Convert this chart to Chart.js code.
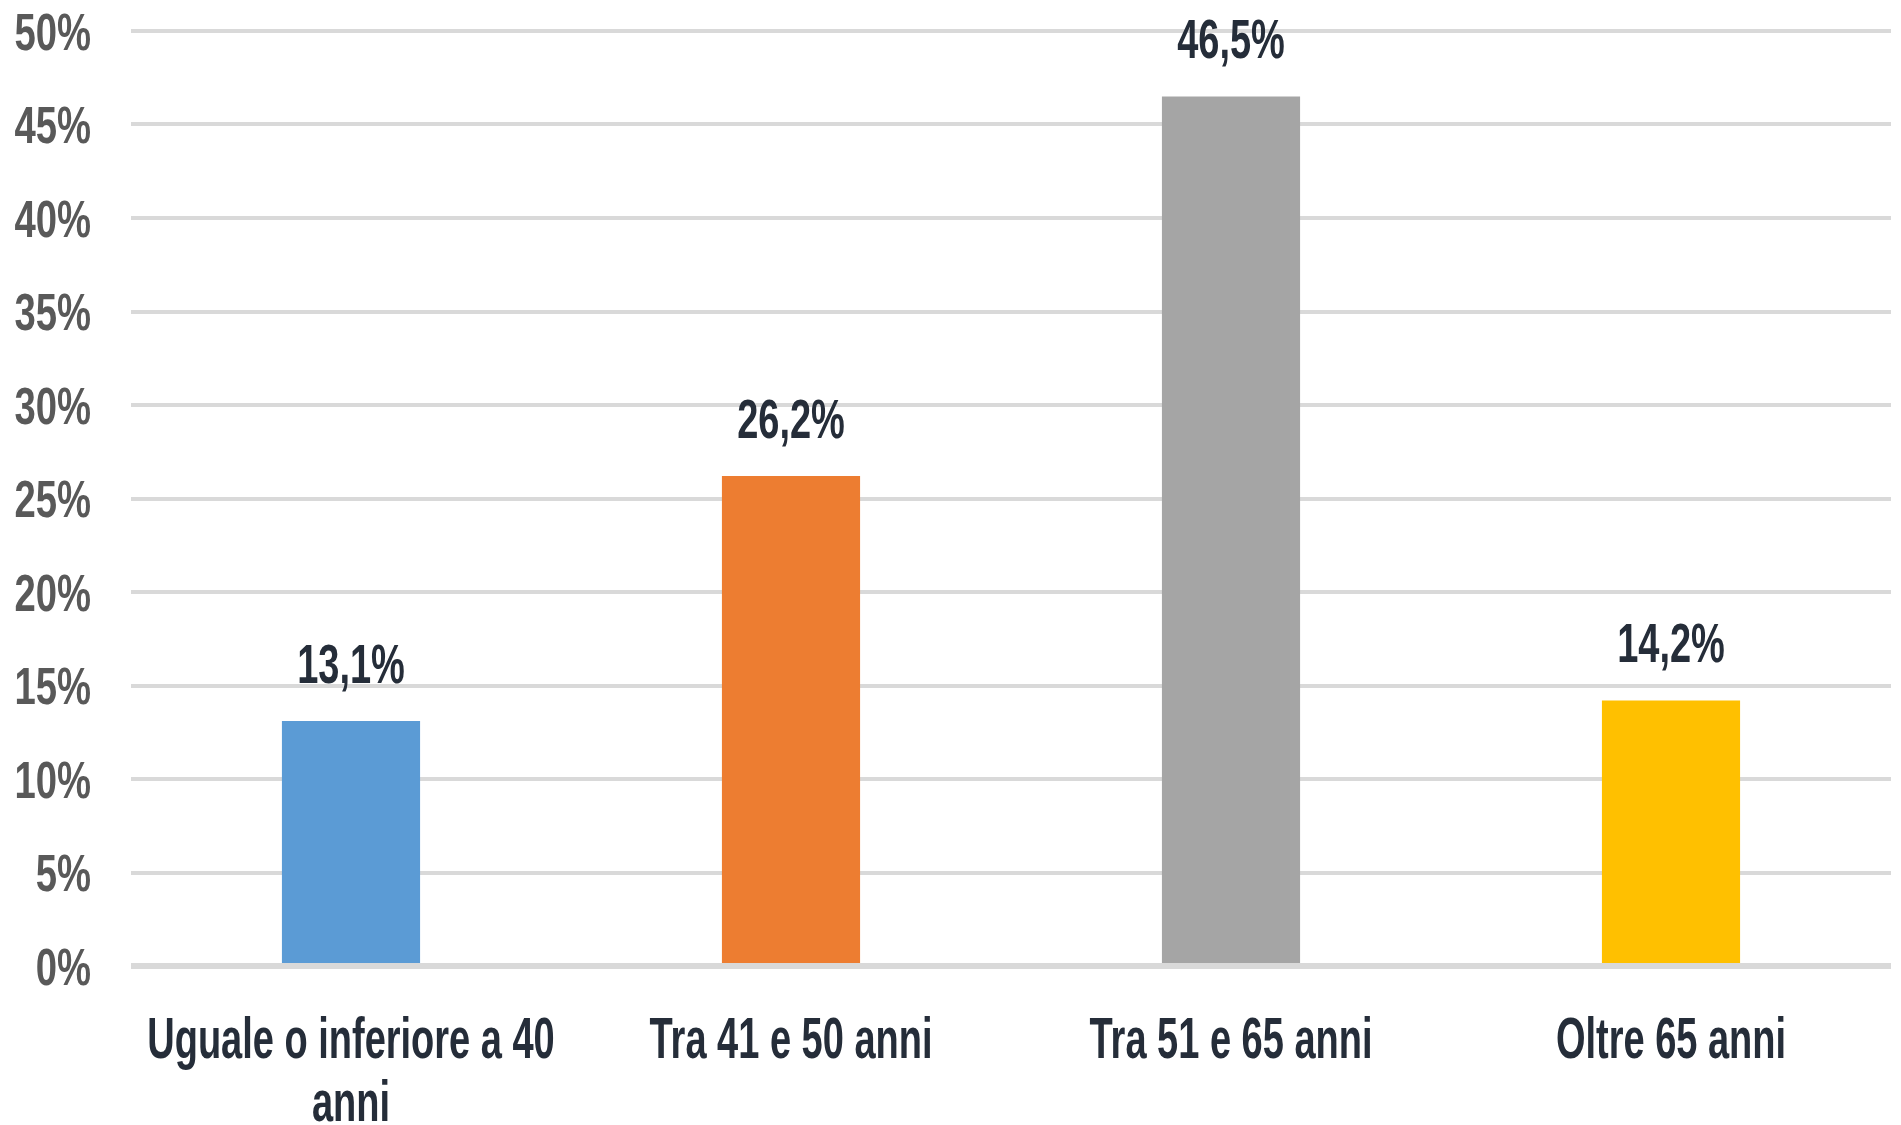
<!DOCTYPE html>
<html>
<head>
<meta charset="utf-8">
<script src="https://cdn.jsdelivr.net/npm/chart.js@4/dist/chart.umd.min.js"></script>
<style>
  html, body { margin: 0; padding: 0; background: #fff; }
  #chart { display: block; }
</style>
</head>
<body>
<canvas id="chart" width="1901" height="1125"></canvas>
<script>
  // age groups and share of respondents (%)
  const categories = [['Uguale o inferiore a 40', 'anni'], 'Tra 41 e 50 anni', 'Tra 51 e 65 anni', 'Oltre 65 anni'];
  const shares = [13.1, 26.2, 46.5, 14.2];
  const barColors = ['#5b9bd5', '#ed7d31', '#a5a5a5', '#ffc000'];
  const yTicks = [0, 5, 10, 15, 20, 25, 30, 35, 40, 45, 50];

  const FONT = '"Liberation Sans", Arial, sans-serif';
  const DARK = '#252d39';

  // no narrow face available, so squeeze the regular one horizontally
  function narrowText(ctx, txt, x, y, sx, align) {
    ctx.save();
    ctx.translate(x, y);
    ctx.scale(sx, 1);
    ctx.textAlign = align;
    ctx.fillText(txt, 0, 0);
    ctx.restore();
  }

  const narrowLabels = {
    id: 'narrowLabels',
    afterDraw(chart) {
      const ctx = chart.ctx;
      const xs = chart.scales.x;
      const ys = chart.scales.y;
      ctx.save();
      ctx.textBaseline = 'alphabetic';

      // y axis percentages
      ctx.font = 'bold 51px ' + FONT;
      ctx.fillStyle = '#595959';
      yTicks.forEach(v => {
        narrowText(ctx, v + '%', 91, ys.getPixelForValue(v) + 18.5, 0.75, 'right');
      });

      // category names, up to two lines
      ctx.font = 'bold 58px ' + FONT;
      ctx.fillStyle = DARK;
      categories.forEach((lab, i) => {
        const lines = Array.isArray(lab) ? lab : [lab];
        const x = xs.getPixelForTick(i);
        lines.forEach((ln, j) => narrowText(ctx, ln, x, ys.bottom + 92 + j * 63, 0.655, 'center'));
      });

      // value above each bar, decimal comma
      ctx.font = 'bold 55px ' + FONT;
      const meta = chart.getDatasetMeta(0);
      meta.data.forEach((bar, i) => {
        const txt = shares[i].toFixed(1).replace('.', ',') + '%';
        narrowText(ctx, txt, bar.x, bar.y - 38, 0.69, 'center');
      });
      ctx.restore();
    }
  };

  new Chart(document.getElementById('chart').getContext('2d'), {
    type: 'bar',
    data: {
      labels: categories,
      datasets: [{
        data: shares,
        backgroundColor: barColors,
        borderWidth: 0,
        categoryPercentage: 1,
        barPercentage: 0.314
      }]
    },
    options: {
      responsive: false,
      animation: false,
      events: [],
      layout: { padding: { top: 31, right: 10, left: 0, bottom: 0 } },
      plugins: {
        legend: { display: false },
        tooltip: { enabled: false }
      },
      scales: {
        x: {
          grid: { display: false, drawTicks: false },
          border: { display: false },
          ticks: { display: false },
          afterFit(scale) { scale.height = 159; }
        },
        y: {
          min: 0,
          max: 50,
          afterBuildTicks(scale) { scale.ticks = yTicks.map(v => ({ value: v })); },
          grid: {
            color: '#d9d9d9',
            lineWidth: c => (c.tick && c.tick.value === 0 ? 6 : 4),
            drawTicks: false
          },
          border: { display: false },
          ticks: { display: false },
          afterFit(scale) { scale.width = 131; }
        }
      }
    },
    plugins: [narrowLabels]
  });
</script>
</body>
</html>
